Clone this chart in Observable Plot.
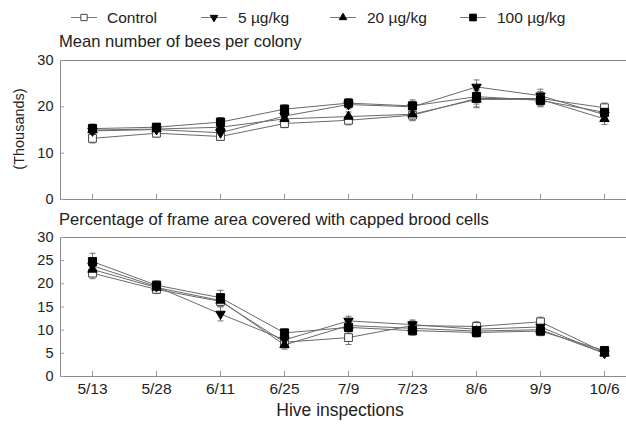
<!DOCTYPE html>
<html>
<head>
<meta charset="utf-8">
<script src="https://cdn.jsdelivr.net/npm/d3@7"></script>
<script src="https://cdn.jsdelivr.net/npm/@observablehq/plot@0.6"></script>
<style>
  html, body { margin: 0; padding: 0; background: #fff; }
  #chart { position: relative; width: 626px; height: 429px; overflow: hidden;
           font-family: "Liberation Sans", Arial, sans-serif; color: #222; }
  .t { position: absolute; white-space: nowrap; line-height: 1; }
  .panel { position: absolute; left: 0; }
  .panel svg { overflow: visible; }
</style>
</head>
<body>
<div id="chart"></div>
<script>
// ---------- data ----------
const dates = ["5/13", "5/28", "6/11", "6/25", "7/9", "7/23", "8/6", "9/9", "10/6"];
const seriesNames = ["Control", "5 \u00b5g/kg", "20 \u00b5g/kg", "100 \u00b5g/kg"];

// Mean number of bees per colony (thousands)
const beesControl = [13.2, 14.3, 13.6, 16.4, 17.1, 18.2, 21.8, 21.8, 19.8];
const bees5       = [14.8, 15.1, 14.4, 18.0, 20.5, 20.0, 24.3, 22.4, 18.3];
const bees20      = [15.0, 15.2, 15.6, 17.4, 17.9, 18.4, 21.6, 21.6, 17.4];
const bees100     = [15.3, 15.6, 16.7, 19.5, 20.8, 20.2, 22.2, 21.4, 18.8];
const beesSeControl = [1.0, 0.8, 0.8, 0.9, 1.0, 1.2, 1.8, 1.5, 1.0];
const beesSe5       = [1.0, 0.8, 1.0, 1.0, 0.9, 1.2, 1.5, 1.4, 1.2];
const beesSe20      = [1.0, 0.8, 1.0, 1.0, 1.0, 1.3, 1.8, 1.4, 1.2];
const beesSe100     = [1.0, 0.8, 1.0, 0.9, 1.0, 1.3, 1.6, 1.4, 1.2];

// Percentage of frame area covered with capped brood cells
const broodControl = [22.3, 18.8, 16.2, 7.4, 8.4, 11.0, 10.8, 11.8, 5.2];
const brood5       = [23.9, 19.4, 13.5, 7.9, 12.0, 11.2, 10.2, 10.7, 5.0];
const brood20      = [23.1, 19.2, 16.4, 6.8, 11.0, 10.4, 9.8, 10.1, 5.0];
const brood100     = [24.8, 19.7, 17.0, 9.4, 10.6, 9.9, 9.5, 9.8, 5.6];
const broodSeControl = [1.2, 0.9, 1.0, 0.8, 1.5, 1.0, 1.0, 1.0, 0.6];
const broodSe5       = [1.3, 0.9, 1.5, 0.9, 1.0, 1.0, 1.0, 1.0, 0.6];
const broodSe20      = [1.3, 0.9, 1.2, 0.9, 1.0, 1.0, 1.0, 1.0, 0.6];
const broodSe100     = [1.8, 0.9, 1.6, 0.8, 1.0, 1.0, 1.0, 1.0, 0.6];

const beesTicks = [0, 10, 20, 30];
const broodTicks = [0, 5, 10, 15, 20, 25, 30];

// ---------- symbols ----------
const sqrt3 = Math.sqrt(3);
const triangleDown = {
  draw(context, size) {
    const y = -Math.sqrt(size / (sqrt3 * 3));
    context.moveTo(0, -y * 2);
    context.lineTo(-sqrt3 * y, y);
    context.lineTo(sqrt3 * y, y);
    context.closePath();
  }
};
const hline = {
  draw(context, size) {
    const r = Math.sqrt(size) / 2;
    context.moveTo(-r, 0);
    context.lineTo(r, 0);
  }
};
const styles = [
  {symbol: "square", fill: "white", stroke: "#444", r: 4.4},
  {symbol: triangleDown, fill: "black", stroke: "black", r: 3.5},
  {symbol: "triangle", fill: "black", stroke: "black", r: 3.5},
  {symbol: "square", fill: "black", stroke: "black", r: 4.6}
];

function rowsFor(valueArrays, seArrays) {
  const rows = [];
  seriesNames.forEach((s, i) => {
    dates.forEach((d, j) => {
      rows.push({series: s, si: i, date: d, value: valueArrays[i][j], se: seArrays[i][j]});
    });
  });
  return rows;
}

const FONT = '"Liberation Sans", Arial, sans-serif';

function panel(rows, ticks, showX, height, marginBottom) {
  const marks = [
    Plot.ruleY([0, 30], {stroke: "#8a8a8a", strokeWidth: 1}),
    Plot.frame({anchor: "left", stroke: "#8a8a8a"}),
    Plot.axisY({ticks, tickSize: -4, stroke: "#999", tickFormat: () => ""}),
    Plot.axisY({ticks, tickSize: 0, tickPadding: 7, fontSize: 14.5, fill: "#222"}),
    Plot.axisX({tickSize: -5, stroke: "#999", tickFormat: () => ""}),
  ];
  if (showX) marks.push(Plot.axisX({tickSize: 0, tickPadding: 6, fontSize: 15.5, fill: "#222"}));
  // error bars
  marks.push(Plot.ruleX(rows, {x: "date", y1: d => d.value - d.se, y2: d => d.value + d.se, stroke: "#777", strokeWidth: 1}));
  marks.push(Plot.dot(rows, {x: "date", y: d => d.value - d.se, symbol: hline, r: 3.4, stroke: "#777", fill: "none", strokeWidth: 1}));
  marks.push(Plot.dot(rows, {x: "date", y: d => d.value + d.se, symbol: hline, r: 3.4, stroke: "#777", fill: "none", strokeWidth: 1}));
  // lines
  marks.push(Plot.line(rows, {x: "date", y: "value", z: "series", stroke: "#6a6a6a", strokeWidth: 1}));
  // markers
  seriesNames.forEach((s, i) => {
    const st = styles[i];
    marks.push(Plot.dot(rows.filter(d => d.si === i), {
      x: "date", y: "value", symbol: st.symbol, r: st.r, fill: st.fill, stroke: st.stroke, strokeWidth: 1
    }));
  });
  return Plot.plot({
    width: 626, height, marginLeft: 60, marginRight: 0, marginTop: 10, marginBottom,
    style: {fontFamily: FONT, fontSize: "14.5px", color: "#222", background: "transparent", overflow: "visible"},
    x: {type: "point", domain: dates, range: [92, 604], padding: 0, label: null},
    y: {domain: [0, 30], label: null},
    marks
  });
}

const chart = document.getElementById("chart");

function addText(txt, left, topPx, size, extra) {
  const el = document.createElement("div");
  el.className = "t";
  el.textContent = txt;
  el.style.left = left + "px";
  el.style.top = topPx + "px";
  el.style.fontSize = size + "px";
  if (extra) Object.assign(el.style, extra);
  chart.appendChild(el);
  return el;
}

// legend
const legendPos = [{sx: 84, tx: 107}, {sx: 214, tx: 238}, {sx: 343, tx: 367}, {sx: 473, tx: 497}];
const legendSymbols = [d3.symbolSquare, triangleDown, d3.symbolTriangle, d3.symbolSquare];
const legendSizes = [40, 24, 24, 45];
seriesNames.forEach((s, i) => {
  const p = legendPos[i];
  const svg = d3.select(chart).append("svg")
    .attr("width", 32).attr("height", 14)
    .style("position", "absolute").style("left", (p.sx - 16) + "px").style("top", "10px");
  svg.append("line").attr("x1", 3).attr("x2", 29).attr("y1", 7.5).attr("y2", 7.5)
    .attr("stroke", "#777").attr("stroke-width", 1);
  svg.append("path").attr("transform", "translate(16,7.5)")
    .attr("d", d3.symbol(legendSymbols[i], legendSizes[i])())
    .attr("fill", styles[i].fill).attr("stroke", styles[i].stroke).attr("stroke-width", 1);
  addText(s, p.tx, 9.5, 15.5);
});

// titles
addText("Mean number of bees per colony", 59, 34, 16.6);
addText("Percentage of frame area covered with capped brood cells", 59, 212, 16.6);

// top panel
const topPanel = document.createElement("div");
topPanel.className = "panel"; topPanel.style.top = "50px";
topPanel.appendChild(panel(rowsFor([beesControl, bees5, bees20, bees100], [beesSeControl, beesSe5, beesSe20, beesSe100]), beesTicks, false, 160, 11));
chart.appendChild(topPanel);

// bottom panel
const botPanel = document.createElement("div");
botPanel.className = "panel"; botPanel.style.top = "227px";
botPanel.appendChild(panel(rowsFor([broodControl, brood5, brood20, brood100], [broodSeControl, broodSe5, broodSe20, broodSe100]), broodTicks, true, 189, 40));
chart.appendChild(botPanel);

// axis labels
addText("(Thousands)", 19, 129, 14.5, {transform: "translate(-50%,-50%) rotate(-90deg)"});
addText("Hive inspections", 340, 411, 17.5, {transform: "translate(-50%,-50%)"});
</script>
</body>
</html>
